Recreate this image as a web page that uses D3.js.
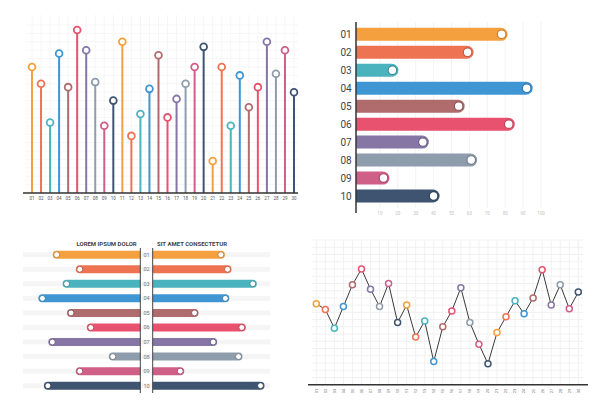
<!DOCTYPE html>
<html lang="en">
<head>
  <meta charset="UTF-8">
  <title>Infographic charts</title>
  <script src="https://d3js.org/d3.v7.min.js"></script>
  <style>
    body { margin: 0; background: #fff; font-family: 'Roboto', 'Open Sans', sans-serif; }
  </style>
</head>
<body>
  <div class="chart"></div>
  <script>
    const colors = ['#F5A03F', '#EE7353', '#4BB3BE', '#3F96D3', '#B06C6C',
                    '#E9526E', '#8676A6', '#8E9CAB', '#D05F88', '#3E5470'];

    const labels30 = d3.range(1, 31).map(d => String(d).padStart(2, '0'));
    const labels10 = d3.range(1, 11).map(d => String(d).padStart(2, '0'));

    const stemValues = [75, 65, 42, 83, 63, 97, 85, 66, 40, 55, 90, 34, 47, 62, 82,
                        45, 56, 65, 75, 87, 19, 75, 40, 70, 51, 63, 90, 71, 85, 60];
    const barValues = [78, 59, 17, 92, 54, 82, 34, 61, 12, 40];
    const barTicks = [10, 20, 30, 40, 50, 60, 70, 80, 90, 100];
    const leftValues = [76, 55, 67, 89, 63, 45, 80, 25, 55, 84];
    const rightValues = [62, 68, 91, 66, 38, 81, 55, 78, 25, 98];
    const leftTitle = 'LOREM IPSUM DOLOR';
    const rightTitle = 'SIT AMET CONSECTETUR';
    const lineValues = [56, 52, 39, 54, 69, 80, 66, 54, 70, 43, 55, 33, 44, 16, 40,
                        51, 67, 43, 28, 14.5, 36, 47, 58, 49, 60, 79.5, 55, 69, 52.5, 64];

    const svg = d3.select('.chart').append('svg')
      .attr('width', 610).attr('height', 405);

    const color = i => colors[i % colors.length];
    const dark = i => d3.color(color(i)).darker(0.6);

    // ---- panel 1: lollipops ----
    const p1 = svg.append('g');
    const x1 = d3.scalePoint().domain(labels30).range([32, 294]);
    const y1 = d3.scaleLinear().domain([0, 100]).range([193, 25]);

    p1.append('g').selectAll('line').data(y1.ticks(20)).join('line')
      .attr('x1', 26).attr('x2', 298).attr('y1', d => y1(d)).attr('y2', d => y1(d))
      .attr('stroke', '#f6f6f6');
    p1.append('g').selectAll('line').data(labels30).join('line')
      .attr('x1', d => x1(d)).attr('x2', d => x1(d)).attr('y1', 15).attr('y2', 193)
      .attr('stroke', '#f6f6f6');

    p1.selectAll('.stem').data(stemValues).join('line').attr('class', 'stem')
      .attr('x1', (d, i) => x1(labels30[i])).attr('x2', (d, i) => x1(labels30[i]))
      .attr('y1', y1(0)).attr('y2', d => y1(d) + 3.5)
      .attr('stroke', (d, i) => color(i)).attr('stroke-width', 2);

    p1.append('line').attr('x1', 23).attr('x2', 298).attr('y1', y1(0)).attr('y2', y1(0))
      .attr('stroke', '#333').attr('stroke-width', 1.5);

    p1.selectAll('.dot').data(stemValues).join('circle').attr('class', 'dot')
      .attr('cx', (d, i) => x1(labels30[i])).attr('cy', d => y1(d)).attr('r', 3.4)
      .attr('fill', '#fff').attr('stroke', (d, i) => color(i)).attr('stroke-width', 1.8);

    p1.selectAll('.lab').data(labels30).join('text').attr('class', 'lab')
      .attr('x', d => x1(d)).attr('y', 200).attr('text-anchor', 'middle')
      .attr('font-size', 4.5).attr('fill', '#555').text(d => d);

    // ---- panel 2: horizontal bars ----
    const p2 = svg.append('g');
    const x2 = d3.scaleLinear().domain([0, 100]).range([362, 541]);
    const y2 = d3.scalePoint().domain(labels10).range([34.3, 196]);
    const bh = 13, axisX2 = 356;

    p2.selectAll('.grid').data(barTicks).join('line').attr('class', 'grid')
      .attr('x1', d => x2(d)).attr('x2', d => x2(d)).attr('y1', 22).attr('y2', 208)
      .attr('stroke', '#f3f3f3');

    p2.selectAll('.bar').data(barValues).join('path').attr('class', 'bar')
      .attr('d', (d, i) => {
        const cy = y2(labels10[i]), end = x2(d) + 6, r = bh / 2;
        return `M${axisX2},${cy - r}H${end - r}A${r},${r} 0 0 1 ${end - r},${cy + r}H${axisX2}Z`;
      })
      .attr('fill', (d, i) => color(i));

    p2.selectAll('.knob').data(barValues).join('circle').attr('class', 'knob')
      .attr('cx', d => x2(d)).attr('cy', (d, i) => y2(labels10[i])).attr('r', 4.3)
      .attr('fill', '#fff').attr('stroke', (d, i) => dark(i)).attr('stroke-width', 1.2);

    p2.append('line').attr('x1', axisX2).attr('x2', axisX2).attr('y1', 22).attr('y2', 213)
      .attr('stroke', '#333').attr('stroke-width', 1.5);

    p2.selectAll('.lab').data(labels10).join('text').attr('class', 'lab')
      .attr('x', 346).attr('y', d => y2(d)).attr('dy', '0.35em').attr('text-anchor', 'middle')
      .attr('font-size', 10).attr('fill', '#444').text(d => d);

    p2.selectAll('.tick').data(barTicks).join('text').attr('class', 'tick')
      .attr('x', d => x2(d)).attr('y', 215).attr('text-anchor', 'middle')
      .attr('font-size', 4.5).attr('fill', '#c4c4c4').text(d => d);

    // ---- panel 3: butterfly bars ----
    const p3 = svg.append('g');
    const y3 = d3.scalePoint().domain(labels10).range([254.7, 385.7]);
    const len = d3.scaleLinear().domain([0, 100]).range([0, 110]);
    const lx = 140.3, rx = 152.7, h3 = 8;

    p3.selectAll('.band').data(labels10).join('rect').attr('class', 'band')
      .attr('x', 23).attr('width', 247).attr('y', d => y3(d) - 2.5).attr('height', 5)
      .attr('fill', '#f5f5f5');

    p3.selectAll('.lbar').data(leftValues).join('path').attr('class', 'lbar')
      .attr('d', (d, i) => {
        const cy = y3(labels10[i]), r = h3 / 2, s = lx - len(d);
        return `M${lx},${cy - r}H${s}A${r},${r} 0 0 0 ${s},${cy + r}H${lx}Z`;
      })
      .attr('fill', (d, i) => color(i));
    p3.selectAll('.rbar').data(rightValues).join('path').attr('class', 'rbar')
      .attr('d', (d, i) => {
        const cy = y3(labels10[i]), r = h3 / 2, e = rx + len(d);
        return `M${rx},${cy - r}H${e}A${r},${r} 0 0 1 ${e},${cy + r}H${rx}Z`;
      })
      .attr('fill', (d, i) => color(i));

    p3.selectAll('.lknob').data(leftValues).join('circle').attr('class', 'lknob')
      .attr('cx', d => lx - len(d)).attr('cy', (d, i) => y3(labels10[i])).attr('r', 3)
      .attr('fill', '#fff').attr('stroke', (d, i) => dark(i)).attr('stroke-width', 1);
    p3.selectAll('.rknob').data(rightValues).join('circle').attr('class', 'rknob')
      .attr('cx', d => rx + len(d)).attr('cy', (d, i) => y3(labels10[i])).attr('r', 3)
      .attr('fill', '#fff').attr('stroke', (d, i) => dark(i)).attr('stroke-width', 1);

    [lx, rx].forEach(x => p3.append('line').attr('x1', x).attr('x2', x)
      .attr('y1', 248).attr('y2', 393).attr('stroke', '#444').attr('stroke-width', 1));

    p3.selectAll('.lab').data(labels10).join('text').attr('class', 'lab')
      .attr('x', (lx + rx) / 2).attr('y', d => y3(d)).attr('dy', '0.35em')
      .attr('text-anchor', 'middle').attr('font-size', 5.5).attr('fill', '#777').text(d => d);

    p3.append('text').attr('x', 136.7).attr('y', 246).attr('text-anchor', 'end')
      .attr('font-size', 6).attr('font-weight', 'bold').attr('fill', '#444').text(leftTitle);
    p3.append('text').attr('x', 157).attr('y', 246).attr('text-anchor', 'start')
      .attr('font-size', 6).attr('font-weight', 'bold').attr('fill', '#444').text(rightTitle);

    // ---- panel 4: line ----
    const p4 = svg.append('g');
    const x4 = d3.scalePoint().domain(labels30).range([316.3, 578.3]);
    const y4 = d3.scaleLinear().domain([0, 100]).range([384.7, 240]);

    p4.append('g').selectAll('line').data(labels30).join('line')
      .attr('x1', d => x4(d)).attr('x2', d => x4(d)).attr('y1', 240).attr('y2', 384.7)
      .attr('stroke', '#f1f1f1');
    p4.append('g').selectAll('line').data(y4.ticks(20)).join('line')
      .attr('x1', 312).attr('x2', 583).attr('y1', d => y4(d)).attr('y2', d => y4(d))
      .attr('stroke', '#f1f1f1');

    p4.append('line').attr('x1', 308).attr('x2', 588).attr('y1', y4(0)).attr('y2', y4(0))
      .attr('stroke', '#333').attr('stroke-width', 1.5);

    const line = d3.line().x((d, i) => x4(labels30[i])).y(d => y4(d));
    p4.append('path').datum(lineValues).attr('d', line)
      .attr('fill', 'none').attr('stroke', '#3a3a3a').attr('stroke-width', 1);

    p4.selectAll('.pt').data(lineValues).join('circle').attr('class', 'pt')
      .attr('cx', (d, i) => x4(labels30[i])).attr('cy', d => y4(d)).attr('r', 3)
      .attr('fill', '#fff').attr('stroke', (d, i) => color(i)).attr('stroke-width', 1.5);

    p4.selectAll('.lab').data(labels30).join('text').attr('class', 'lab')
      .attr('transform', d => `translate(${x4(d)},391) rotate(-90)`)
      .attr('text-anchor', 'middle').attr('dy', '0.35em')
      .attr('font-size', 4).attr('fill', '#777').text(d => d);
  </script>
</body>
</html>
